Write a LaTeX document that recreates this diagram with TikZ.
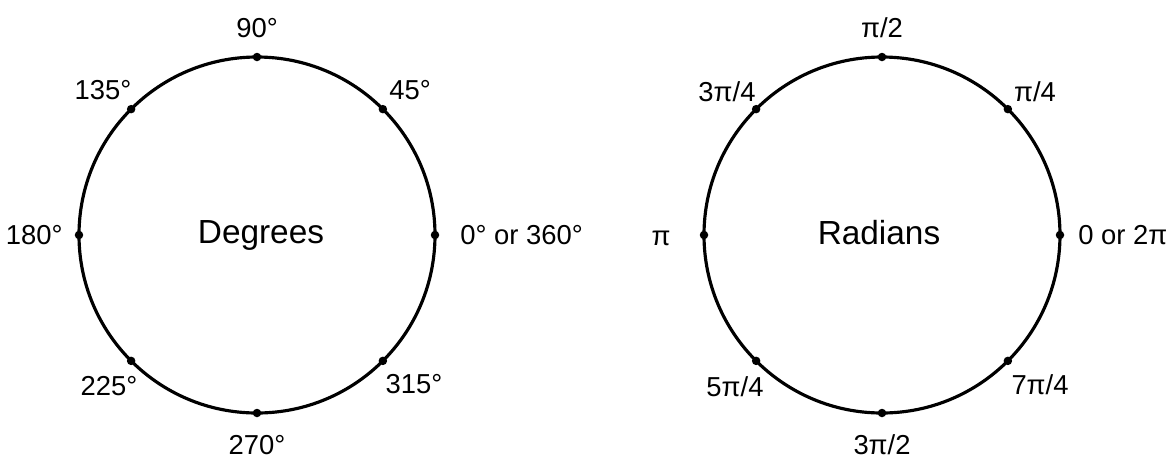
\documentclass[tikz,border=0pt]{standalone}
\usepackage{fontspec}
\setmainfont{Liberation Sans}
\usepackage{tikz}
\usetikzlibrary{positioning, calc}
\definecolor{mydark}{RGB}{0,0,0}
\tikzset{
  unitcircle/.style={draw=mydark, line width=1.8pt},
  tickdot/.style={circle, fill=mydark, inner sep=0pt, minimum size=0.17cm},
  anglelbl/.style={font=\fontsize{15.6}{15.6}\selectfont, inner sep=0pt, text=mydark},
  titlelbl/.style={font=\fontsize{19}{19}\selectfont, inner sep=0pt, anchor=base, text=mydark}
}

\begin{document}
\begin{tikzpicture}[x=0.02cm, y=0.02cm]
  \useasboundingbox (-257,-223) rectangle (913,235);

  % Degrees circle
  \coordinate (dcen) at (0,0);
  \draw[unitcircle] (dcen) circle (178);
  \foreach \a in {0,45,...,315} {
    \node[tickdot] (d\a) at ($(dcen)+(\a:178)$) {};
  }
  \node[titlelbl] (dtitle) at (4,-8) {Degrees};

  \node[anglelbl] (d90lbl) at (0,207) {90°};
  \node[anglelbl] (d135lbl) at (-154,145) {135°};
  \node[anglelbl] (d45lbl) at (153,145) {45°};
  \node[anglelbl, anchor=east] (d180lbl) at (-194,0) {180°};
  \node[anglelbl, anchor=west] (d0lbl) at (203,0) {0° or 360°};
  \node[anglelbl] (d225lbl) at (-148,-151) {225°};
  \node[anglelbl] (d315lbl) at (157,-149) {315°};
  \node[anglelbl] (d270lbl) at (0,-210) {270°};

  % Radians circle
  \coordinate (rcen) at (625,0);
  \draw[unitcircle] (rcen) circle (178);
  \foreach \a in {0,45,...,315} {
    \node[tickdot] (r\a) at ($(rcen)+(\a:178)$) {};
  }
  \node[titlelbl] (rtitle) at ($(rcen)+(-3,-9)$) {Radians};

  \node[anglelbl] (r90lbl) at ($(rcen)+(0,207)$) {π/2};
  \node[anglelbl] (r135lbl) at ($(rcen)+(-155,143)$) {3π/4};
  \node[anglelbl] (r45lbl) at ($(rcen)+(153,143)$) {π/4};
  \node[anglelbl, anchor=east] (r180lbl) at ($(rcen)+(-211,-3)$) {π};
  \node[anglelbl, anchor=west] (r0lbl) at ($(rcen)+(196,0)$) {0 or 2π};
  \node[anglelbl] (r225lbl) at ($(rcen)+(-147,-152)$) {5π/4};
  \node[anglelbl] (r315lbl) at ($(rcen)+(158,-150)$) {7π/4};
  \node[anglelbl] (r270lbl) at ($(rcen)+(0,-210)$) {3π/2};
\end{tikzpicture}
\end{document}
